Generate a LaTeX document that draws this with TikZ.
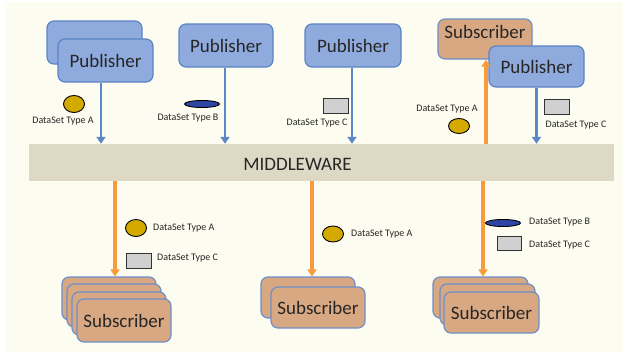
\documentclass[tikz,border=0pt]{standalone}
\usepackage{fontspec}
\setmainfont{Carlito}
\usetikzlibrary{arrows.meta,shapes.geometric}
\definecolor{bgcream}{HTML}{FDFCF0}
\definecolor{pubfill}{HTML}{8FAADC}
\definecolor{publine}{HTML}{5B84C6}
\definecolor{subfill}{HTML}{D8A882}
\definecolor{subline}{HTML}{6E8FC8}
\definecolor{mwfill}{HTML}{DDD9C4}
\definecolor{flowblue}{HTML}{5A88C8}
\definecolor{floworange}{HTML}{F89B3D}
\definecolor{typeA}{HTML}{D4A900}
\definecolor{typeB}{HTML}{2F45A5}
\definecolor{typeC}{HTML}{D0D0D0}
\definecolor{inkdark}{HTML}{262626}
\tikzset{
  box/.style={rounded corners=7pt, line width=1.2pt, text=inkdark,
    font=\fontsize{19}{19}\selectfont, inner sep=0pt},
  pub/.style={box, draw=publine, fill=pubfill},
  sub/.style={box, draw=subline, fill=subfill},
  pubflow/.style={draw=flowblue, line width=2.7pt, -{Triangle[width=9pt,length=7pt]}},
  subflow/.style={draw=floworange, line width=3.3pt, -{Triangle[width=9pt,length=7pt]}},
  dsA/.style={ellipse, draw=black, line width=0.9pt, fill=typeA, inner sep=0pt},
  dsB/.style={ellipse, draw=black, line width=0.9pt, fill=typeB, inner sep=0pt,
    minimum width=35pt, minimum height=7pt},
  dsC/.style={rectangle, draw=black!80, line width=1pt, fill=typeC, inner sep=0pt},
  dslabel/.style={font=\fontsize{10}{10}\selectfont, text=inkdark, inner sep=0pt},
}
\begin{document}
\begin{tikzpicture}[x=1pt, y=-1pt]
\useasboundingbox (0,0) rectangle (623,354);
\fill[white] (0,0) rectangle (623,354);
\fill[bgcream] (5,2) rectangle (623,352);

% middleware bar
\node[fill=mwfill, minimum width=585pt, minimum height=37pt, inner sep=0pt] (mw) at (321.5,162.5) {};
\node[font=\fontsize{19}{19}\selectfont, text=inkdark, inner sep=0pt] (mwtext) at (297.5,164.5) {MIDDLEWARE};

% publishers
\node[pub, minimum width=95pt, minimum height=43pt] (pubA0) at (94.5,42.5) {};
\node[pub, minimum width=95pt, minimum height=43pt] (pubA) at (105.5,60.5) {Publisher};
\node[pub, minimum width=94pt, minimum height=43pt] (pubB) at (226,45.5) {Publisher};
\node[pub, minimum width=96pt, minimum height=43pt] (pubC) at (353,45.5) {Publisher};
\node[sub, minimum width=94pt, minimum height=40pt] (subTop) at (485,39) {};
\node[text=inkdark, font=\fontsize{19}{19}\selectfont, inner sep=0pt] (subTopText) at (485,32) {Subscriber};
\node[pub, minimum width=95pt, minimum height=41pt] (pubD) at (536.5,66.5) {Publisher};

% subscribers below the middleware
\node[sub, minimum width=94pt, minimum height=43pt] (subL1) at (109,298.5) {};
\node[sub, minimum width=94pt, minimum height=43pt] (subL2) at (114,305.5) {};
\node[sub, minimum width=94pt, minimum height=43pt] (subL3) at (119,313.5) {};
\node[sub, minimum width=94pt, minimum height=43pt] (subL4) at (124,320.5) {Subscriber};

\node[sub, minimum width=94pt, minimum height=41pt] (subM1) at (308,297.5) {};
\node[sub, minimum width=94pt, minimum height=41pt] (subM2) at (318,307.5) {Subscriber};

\node[sub, minimum width=95pt, minimum height=41pt] (subR1) at (480.5,297.5) {};
\node[sub, minimum width=95pt, minimum height=41pt] (subR2) at (487.5,304.5) {};
\node[sub, minimum width=95pt, minimum height=41pt] (subR3) at (491.5,312.5) {Subscriber};

% publishing flows
\draw[pubflow] ([xshift=-4.5pt]pubA.south) -- ([xshift=-4.5pt]pubA.south |- mw.north);
\draw[pubflow] ([xshift=-1pt]pubB.south) -- ([xshift=-1pt]pubB.south |- mw.north);
\draw[pubflow] ([xshift=-1pt]pubC.south) -- ([xshift=-1pt]pubC.south |- mw.north);
\draw[pubflow] (pubD.south) -- (pubD.south |- mw.north);

% subscribing flows
\draw[subflow] ([xshift=1pt]subTop.south |- mw.north) -- ([xshift=1pt]subTop.south);
\draw[subflow] ([xshift=6pt]subL1.north |- mw.south) -- ([xshift=6pt]subL1.north);
\draw[subflow] ([xshift=4pt]subM1.north |- mw.south) -- ([xshift=4pt]subM1.north);
\draw[subflow] ([xshift=2.5pt]subR1.north |- mw.south) -- ([xshift=2.5pt]subR1.north);

% data sets above the middleware
\node[dsA, minimum width=21pt, minimum height=17pt] (eA1) at (74,104) {};
\node[dslabel] (lA1) at (63,121) {DataSet Type A};
\node[dsB] (eB1) at (202,104) {};
\node[dslabel] (lB1) at (188,118) {DataSet Type B};
\node[dsC, minimum width=25pt, minimum height=15pt] (rC1) at (335.5,105.5) {};
\node[dslabel] (lC1) at (317,123) {DataSet Type C};
\node[dsA, minimum width=21pt, minimum height=15pt] (eA2) at (459,126) {};
\node[dslabel] (lA2) at (447,109) {DataSet Type A};
\node[dsC, minimum width=25pt, minimum height=15pt] (rC2) at (556.5,106.5) {};
\node[dslabel] (lC2) at (576,125) {DataSet Type C};

% data sets below the middleware
\node[dsA, minimum width=21pt, minimum height=17pt] (eA3) at (136,228) {};
\node[dslabel, anchor=west] (lA3) at (153,228) {DataSet Type A};
\node[dsC, minimum width=25pt, minimum height=15pt] (rC3) at (138.5,260.5) {};
\node[dslabel, anchor=west] (lC3) at (157,258) {DataSet Type C};
\node[dsA, minimum width=21pt, minimum height=16pt] (eA4) at (333,234) {};
\node[dslabel, anchor=west] (lA4) at (351,234) {DataSet Type A};
\node[dsB] (eB2) at (503,223) {};
\node[dslabel, anchor=west] (lB2) at (529,222) {DataSet Type B};
\node[dsC, minimum width=24pt, minimum height=14pt] (rC4) at (509,243) {};
\node[dslabel, anchor=west] (lC4) at (529,245) {DataSet Type C};
\end{tikzpicture}
\end{document}
